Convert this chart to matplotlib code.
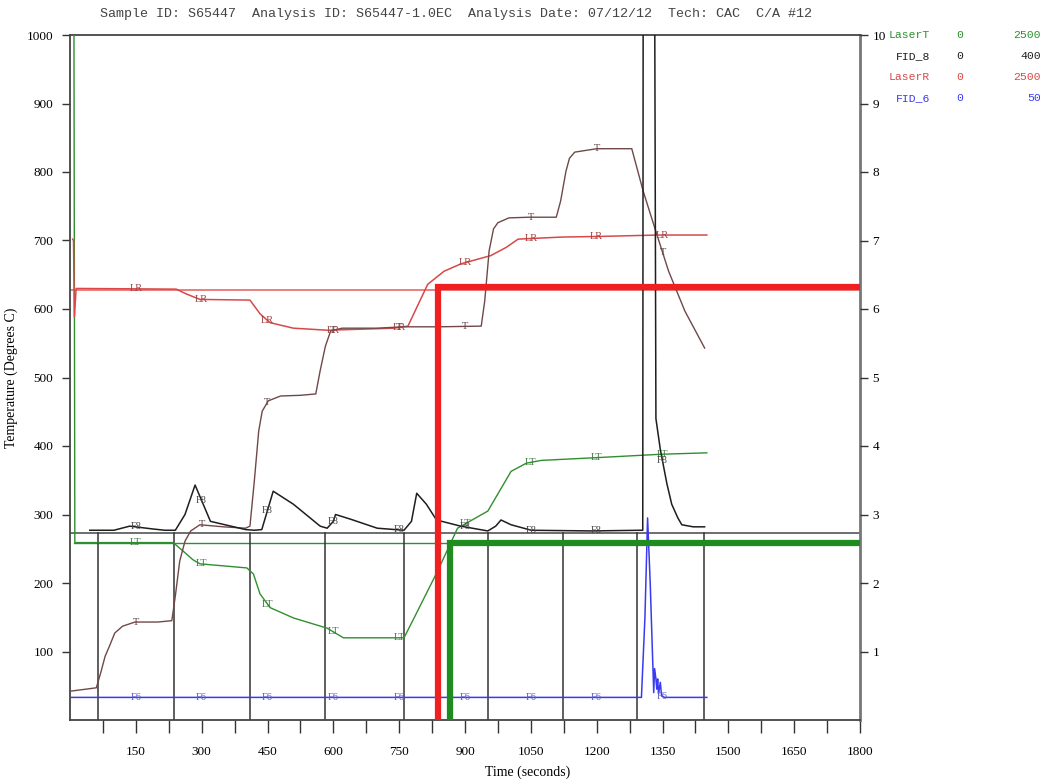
import numpy as np
import matplotlib
matplotlib.use("Agg")
import matplotlib.pyplot as plt

# ---------------- data (time in seconds, values in left-axis units) ----------------
header = "Sample ID: S65447  Analysis ID: S65447-1.0EC  Analysis Date: 07/12/12  Tech: CAC  C/A #12"

legend_names = ["LaserT", "FID_8", "LaserR", "FID_6"]
legend_lo = ["0", "0", "0", "0"]
legend_hi = ["2500", "400", "2500", "50"]

# sample temperature trace "T"
t_T = [0, 60, 70, 80, 90, 102, 120, 148, 200, 232, 240, 250, 262, 275, 296, 350, 400, 410,
       420, 430, 438, 452, 480, 525, 560, 570, 582, 594, 620, 700, 760, 840, 937, 945, 955,
       965, 975, 1000, 1046, 1108, 1118, 1130, 1138, 1150, 1200, 1280, 1306, 1337, 1364,
       1401, 1446]
v_T = [42, 47, 69, 93, 108, 127, 137, 143, 143, 145, 181, 232, 261, 276, 285, 282, 280, 283,
       349, 422, 451, 466, 473, 474, 476, 510, 546, 568, 572, 572, 574, 574, 575, 612, 685,
       717, 726, 733, 734, 734, 758, 801, 820, 829, 834, 834, 772, 709, 655, 597, 543]

# LaserR trace "LR"
t_LR = [6, 8, 10, 14, 242, 265, 296, 410, 433, 456, 509, 587, 738, 770, 815, 852, 891, 959,
        994, 1021, 1120, 1211, 1341, 1451]
v_LR = [702, 700, 588, 630, 629, 622, 614, 613, 593, 580, 572, 569, 572, 575, 636, 655, 666,
        678, 690, 702, 705, 706, 708, 708]

# LaserT trace "LT"
t_LT = [9, 11, 75, 235, 257, 280, 296, 403, 418, 433, 456, 509, 586, 623, 761, 784, 838, 883,
        952, 1005, 1040, 1074, 1200, 1348, 1451]
v_LT = [1010, 259, 259, 259, 247, 234, 228, 222, 213, 184, 164, 149, 134, 120, 120, 149, 218,
        280, 305, 363, 375, 379, 383, 388, 390]

# FID_8 trace "F8"
t_F8 = [45, 100, 136, 187, 216, 240, 262, 285, 320, 400, 420, 437, 463, 509, 570, 586, 600,
        605, 640, 700, 761, 778, 790, 812, 835, 890, 952, 970, 982, 1005, 1051, 1188, 1300,
        1305, 1306, 1332, 1335, 1345, 1360, 1371, 1385, 1394, 1420, 1446]
v_F8 = [277, 277, 283, 279, 277, 277, 300, 343, 290, 278, 277, 278, 334, 315, 283, 280, 290,
        300, 293, 280, 277, 290, 331, 315, 292, 283, 276, 283, 292, 285, 277, 276, 277, 277,
        1100, 1100, 440, 395, 345, 315, 295, 285, 282, 282]

# FID_6 trace "F6"
t_F6 = [4, 1302, 1310, 1316, 1322, 1328, 1330, 1332, 1335, 1337, 1339, 1341, 1345, 1348, 1355,
        1451]
v_F6 = [33, 33, 150, 295, 200, 80, 40, 75, 60, 45, 60, 38, 55, 35, 33, 33]

# reference levels / gate markers
baseline_F8 = 273
level_LR = 628
level_LT = 258
thick_LR = (838, 632)
thick_LT = (866, 258)
gate_times = [64, 238, 409, 582, 761, 953, 1124, 1292, 1445]
label_times = [150, 300, 450, 600, 750, 900, 1050, 1200, 1350]

x_ticks_major = [150, 300, 450, 600, 750, 900, 1050, 1200, 1350, 1500, 1650, 1800]
x_ticks_minor = [75, 225, 375, 525, 675, 825, 975, 1125, 1275, 1425, 1575, 1725]
y_ticks = [100, 200, 300, 400, 500, 600, 700, 800, 900, 1000]
y2_ticks = [1, 2, 3, 4, 5, 6, 7, 8, 9, 10]

# ---------------- figure ----------------
GREEN = "#2f8f2f"
GREEN_THICK = "#1e8c1e"
RED = "#d84848"
RED_THICK = "#f02020"
BLUE = "#3a3af0"
BLACK = "#1e1e1e"
BROWN = "#704848"
serif = "Liberation Serif"
mono = "Liberation Mono"

fig = plt.figure(figsize=(10.45, 7.82), dpi=100)
ax = fig.add_axes([70 / 1045, 1 - 720 / 782, 790 / 1045, 685 / 782])
ax.set_xlim(0, 1800)
ax.set_ylim(0, 1000)

# horizontal reference lines
ax.plot([0, 1800], [level_LR, level_LR], color="#e86a6a", lw=1.2, zorder=2)
ax.plot([10, 1800], [level_LT, level_LT], color=GREEN, lw=1.0, zorder=2)
ax.plot([0, 1800], [baseline_F8, baseline_F8], color="#555555", lw=1.2, zorder=2)

# gate markers
for g in gate_times:
    ax.plot([g, g], [0, baseline_F8], color="#333333", lw=1.1, zorder=2)

# traces
ax.plot(t_F6, v_F6, color=BLUE, lw=1.1, zorder=3)
ax.plot(t_LT, v_LT, color=GREEN, lw=1.0, zorder=3)
ax.plot(t_LR, v_LR, color=RED, lw=1.1, zorder=3)
ax.plot(t_T, v_T, color=BROWN, lw=1.0, zorder=3)
ax.plot(t_F8, v_F8, color=BLACK, lw=1.1, zorder=3)

# thick set-point lines
ax.plot([thick_LR[0], thick_LR[0], 1800], [0, thick_LR[1], thick_LR[1]],
        color=RED_THICK, lw=4.5, solid_joinstyle="miter", zorder=4)
ax.plot([thick_LT[0], thick_LT[0], 1800], [0, thick_LT[1], thick_LT[1]],
        color=GREEN_THICK, lw=4.5, solid_joinstyle="miter", zorder=4)

# trace labels
for name, tt, vv, col in [("LR", t_LR, v_LR, "#a04040"), ("LT", t_LT, v_LT, "#407a40"),
                          ("T", t_T, v_T, "#604040"), ("F8", t_F8, v_F8, "#444444"),
                          ("F6", t_F6, v_F6, "#5a5ac8")]:
    for lt in label_times:
        if lt <= max(tt):
            yv = float(np.interp(lt, tt, vv))
            ax.text(lt, yv, name, fontsize=7.5, family=serif, color=col,
                    ha="center", va="center", zorder=5)

# axes styling
for s in ax.spines.values():
    s.set_color("#444444")
    s.set_linewidth(1.3)
ax.spines["right"].set_color("#777777")
ax.spines["right"].set_linewidth(2.0)

ax.set_xticks(x_ticks_major)
ax.set_xticks(x_ticks_minor, minor=True)
ax.set_xticklabels([str(v) for v in x_ticks_major], fontsize=9.5, family=serif)
ax.tick_params(axis="x", which="both", direction="out", length=9, width=1.0, color="#333333",
               pad=10)
ax.set_yticks(y_ticks)
ax.set_yticklabels([str(v) for v in y_ticks], fontsize=9.5, family=serif)
ax.tick_params(axis="y", direction="out", length=6, width=1.0, color="#333333", pad=6)

ax2 = ax.twinx()
ax2.set_ylim(0, 10)
ax2.set_yticks(y2_ticks)
ax2.set_yticklabels([str(v) for v in y2_ticks], fontsize=9.5, family=serif)
ax2.tick_params(axis="y", direction="out", length=6, width=1.0, color="#333333", pad=3)
for s in ax2.spines.values():
    s.set_visible(False)

ax.set_ylabel("Temperature (Degrees C)", fontsize=10, family=serif, labelpad=6)
ax.set_xlabel("Time (seconds)", fontsize=10, family=serif)
ax.xaxis.set_label_coords((528 - 70) / 790, -0.067)

fig.text(100 / 1045, 1 - 14 / 782, header, fontsize=9.6, family=mono, color="#444444",
         ha="left", va="center")

leg_colors = [GREEN, BLACK, RED, BLUE]
for i, (n, lo, hi, c) in enumerate(zip(legend_names, legend_lo, legend_hi, leg_colors)):
    y = 1 - (35 + i * 21) / 782
    fig.text(930 / 1045, y, n, fontsize=8.2, family=mono, color=c, ha="right", va="center")
    fig.text(963 / 1045, y, lo, fontsize=8.2, family=mono, color=c, ha="right", va="center")
    fig.text(1041 / 1045, y, hi, fontsize=8.2, family=mono, color=c, ha="right", va="center")

fig.savefig("out.png", dpi=100)
